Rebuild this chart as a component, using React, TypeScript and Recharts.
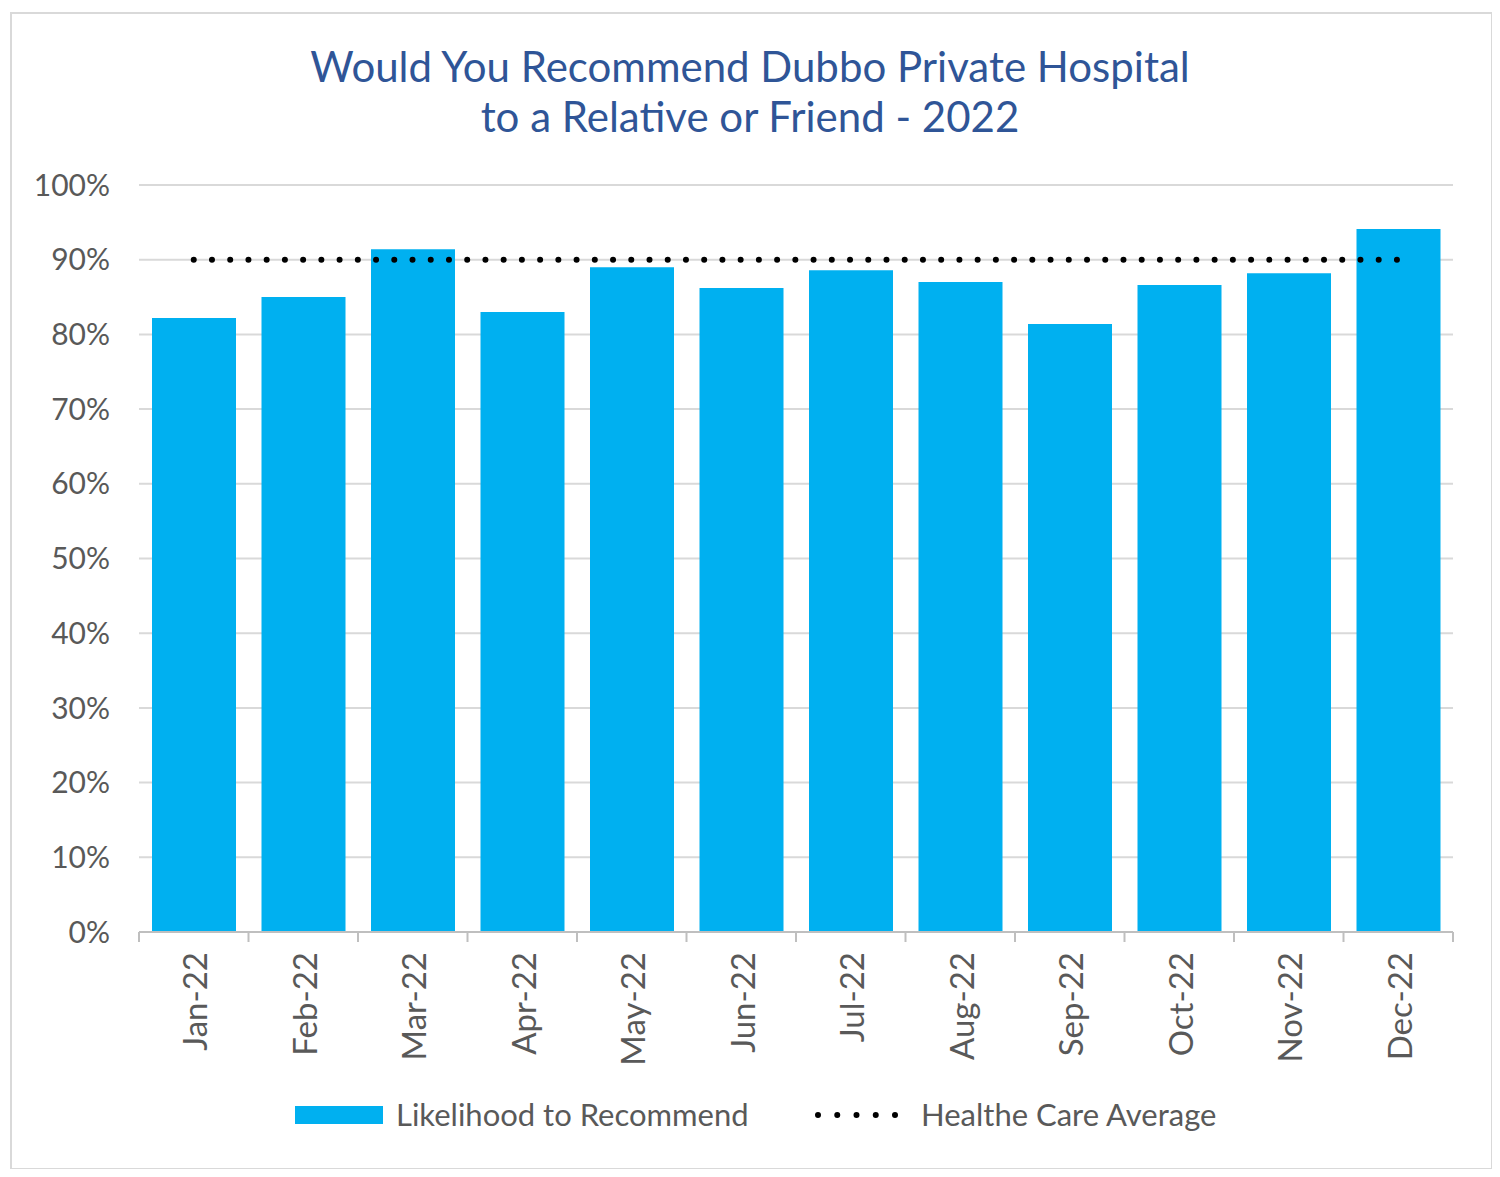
import { ComposedChart, Bar, Line, XAxis, YAxis, CartesianGrid, Legend } from "recharts";

const months = ["Jan-22", "Feb-22", "Mar-22", "Apr-22", "May-22", "Jun-22", "Jul-22", "Aug-22", "Sep-22", "Oct-22", "Nov-22", "Dec-22"];
const likelihood = [82.2, 85.0, 91.4, 83.0, 89.0, 86.2, 88.6, 87.0, 81.4, 86.6, 88.2, 94.1];
const careAverage = [90, 90, 90, 90, 90, 90, 90, 90, 90, 90, 90, 90];
const yTicks = [0, 10, 20, 30, 40, 50, 60, 70, 80, 90, 100];

const data = months.map((m, i) => ({
  month: m,
  likelihood: likelihood[i],
  average: careAverage[i],
}));

const BLUE = "#00b0f0";
const GREY = "#595959";
const FONT = "Lato, 'Open Sans', sans-serif";
const BAND = (1453 - 139) / months.length;

const MonthTick = (props: any) => {
  const { x, payload, index } = props;
  const top = 932;
  return (
    <g>
      <line x1={x - BAND / 2} x2={x - BAND / 2} y1={top} y2={top + 10} stroke="#bfbfbf" strokeWidth={2} />
      {index === months.length - 1 && (
        <line x1={x + BAND / 2} x2={x + BAND / 2} y1={top} y2={top + 10} stroke="#bfbfbf" strokeWidth={2} />
      )}
      <text
        x={x + 2}
        y={top + 20}
        transform={`rotate(-90, ${x + 2}, ${top + 20})`}
        textAnchor="end"
        dy="0.35em"
        fill={GREY}
        fontSize={33}
        fontFamily={FONT}
      >
        {payload.value}
      </text>
    </g>
  );
};

// legend wrapper starts at the chart's left margin (10px)
const LegendContent = () => (
  <div style={{ position: "relative", height: 70, fontFamily: FONT, fontSize: 31, color: GREY }}>
    <div style={{ position: "absolute", left: 285, top: 29, width: 88, height: 18, background: BLUE }} />
    <div style={{ position: "absolute", left: 386, top: 17, lineHeight: "40px", whiteSpace: "nowrap" }}>
      Likelihood to Recommend
    </div>
    <svg style={{ position: "absolute", left: 802, top: 31 }} width={92} height={14}>
      <line x1={6} x2={86} y1={7} y2={7} stroke="#000" strokeWidth={6} strokeDasharray="0 19.25" strokeLinecap="round" />
    </svg>
    <div style={{ position: "absolute", left: 911, top: 17, lineHeight: "40px", whiteSpace: "nowrap" }}>
      Healthe Care Average
    </div>
  </div>
);

export default function App() {
  return (
    <div style={{ position: "relative", width: 1500, height: 1177, margin: -8, background: "#fff" }}>
      <div
        style={{
          position: "absolute",
          left: 10,
          top: 12,
          width: 1483,
          height: 1158,
          border: "2px solid #d9d9d9",
          boxSizing: "border-box",
        }}
      />
      <div
        style={{
          position: "absolute",
          left: 0,
          top: 41,
          width: 1500,
          textAlign: "center",
          fontFamily: FONT,
          fontSize: 42,
          lineHeight: "50px",
          color: "#2F5597",
        }}
      >
        Would You Recommend Dubbo Private Hospital
        <br />
        to a Relative or Friend - 2022
      </div>
      <div style={{ position: "absolute", left: 0, top: 0 }}>
        <ComposedChart
          width={1500}
          height={1177}
          data={data}
          margin={{ top: 185, right: 47, bottom: 30, left: 10 }}
          barSize={84}
        >
          <CartesianGrid vertical={false} stroke="#d9d9d9" strokeWidth={2} />
          <XAxis
            dataKey="month"
            height={145}
            tickLine={false}
            axisLine={{ stroke: "#bfbfbf", strokeWidth: 2 }}
            tick={<MonthTick />}
            interval={0}
          />
          <YAxis
            width={129}
            domain={[0, 100]}
            ticks={yTicks}
            tickFormatter={(v: number) => `${v}%`}
            axisLine={false}
            tickLine={false}
            tickMargin={23}
            tick={{ fill: GREY, fontSize: 30, fontFamily: FONT }}
          />
          <Bar dataKey="likelihood" name="Likelihood to Recommend" fill={BLUE} isAnimationActive={false} />
          <Line
            dataKey="average"
            name="Healthe Care Average"
            type="linear"
            stroke="#000"
            strokeWidth={6}
            strokeDasharray="0 18.23"
            strokeLinecap="round"
            dot={false}
            activeDot={false}
            isAnimationActive={false}
          />
          <Legend verticalAlign="bottom" height={70} content={<LegendContent />} />
        </ComposedChart>
      </div>
    </div>
  );
}
